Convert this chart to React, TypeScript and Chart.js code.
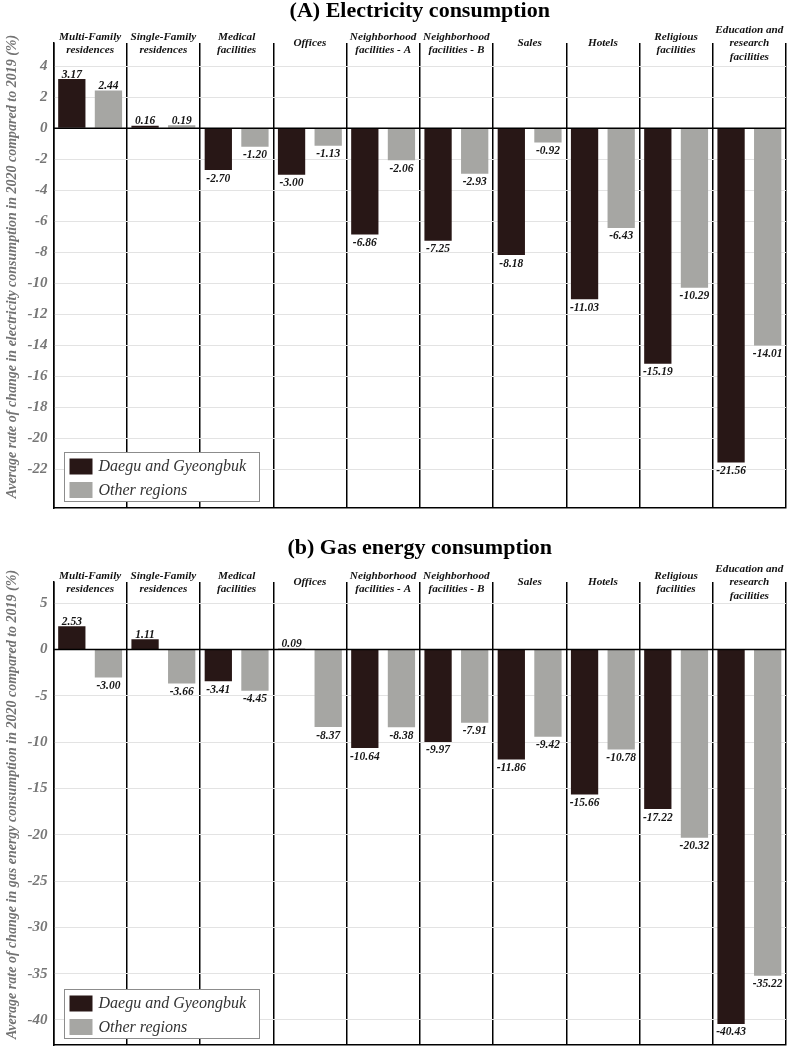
import React, { useEffect, useRef } from "react";
import { Chart, registerables } from "chart.js";

Chart.register(...registerables);

// ---------- data ----------
const categories: string[][] = [
  ["Multi-Family", "residences"],
  ["Single-Family", "residences"],
  ["Medical", "facilities"],
  ["Offices"],
  ["Neighborhood", "facilities - A"],
  ["Neighborhood", "facilities - B"],
  ["Sales"],
  ["Hotels"],
  ["Religious", "facilities"],
  ["Education and", "research", "facilities"],
];

const seriesNames = ["Daegu and Gyeongbuk", "Other regions"];

const elecDaegu = [3.17, 0.16, -2.7, -3.0, -6.86, -7.25, -8.18, -11.03, -15.19, -21.56];
const elecOther = [2.44, 0.19, -1.2, -1.13, -2.06, -2.93, -0.92, -6.43, -10.29, -14.01];

const gasDaegu = [2.53, 1.11, -3.41, 0.09, -10.64, -9.97, -11.86, -15.66, -17.22, -40.43];
const gasOther = [-3.0, -3.66, -4.45, -8.37, -8.38, -7.91, -9.42, -10.78, -20.32, -35.22];

const elecTicks = [4, 2, 0, -2, -4, -6, -8, -10, -12, -14, -16, -18, -20, -22];
const gasTicks = [5, 0, -5, -10, -15, -20, -25, -30, -35, -40];

const elecTitle = "(A) Electricity consumption";
const gasTitle = "(b) Gas energy consumption";
const elecYTitle = "Average rate of change in electricity consumption in 2020 compared to 2019 (%)";
const gasYTitle = "Average rate of change in gas energy consumption in 2020 compared to 2019 (%)";

// ---------- style ----------
const DARK = "#281716";
const GRAY = "#a6a6a3";
const SERIF = "'Liberation Serif', 'Times New Roman', serif";

function makeOverlay(title: string, yTitle: string, titleTop: number) {
  return {
    id: "overlay",
    afterDatasetsDraw(chart: any) {
      const { ctx, chartArea, scales } = chart;
      const y0 = scales.y.getPixelForValue(0);
      ctx.save();
      ctx.strokeStyle = "#000";
      ctx.lineWidth = 1.5;
      ctx.beginPath();
      ctx.moveTo(chartArea.left, y0);
      ctx.lineTo(chartArea.right, y0);
      ctx.stroke();

      ctx.font = `bold italic 11.5px ${SERIF}`;
      ctx.fillStyle = "#151515";
      ctx.textAlign = "center";
      ctx.textBaseline = "alphabetic";
      chart.data.datasets.forEach((ds: any, di: number) => {
        const meta = chart.getDatasetMeta(di);
        meta.data.forEach((el: any, i: number) => {
          const v = ds.data[i] as number;
          const t = v.toFixed(2);
          const y = v >= 0 ? el.y - 1.5 : el.y + 11.5;
          ctx.fillText(t, el.x, y);
        });
      });
      ctx.restore();
    },
    afterDraw(chart: any) {
      const { ctx, chartArea, scales } = chart;
      ctx.save();
      // main title, centred over the plot area
      ctx.font = `bold 22px ${SERIF}`;
      ctx.fillStyle = "#000";
      ctx.textAlign = "center";
      ctx.textBaseline = "middle";
      ctx.fillText(title, (chartArea.left + chartArea.right) / 2, titleTop + 11);

      // y axis title
      ctx.save();
      ctx.translate(12, (chartArea.top + chartArea.bottom) / 2 - 9);
      ctx.rotate(-Math.PI / 2);
      ctx.font = `bold italic 14px ${SERIF}`;
      ctx.fillStyle = "#737373";
      ctx.textAlign = "center";
      ctx.textBaseline = "middle";
      ctx.fillText(yTitle, 0, 0);
      ctx.restore();

      // category labels
      ctx.font = `bold italic 11.2px ${SERIF}`;
      ctx.fillStyle = "#111";
      ctx.textAlign = "center";
      ctx.textBaseline = "middle";
      const lh = 13.6;
      categories.forEach((lines, i) => {
        const x = scales.x.getPixelForValue(i);
        const start = chartArea.top + 0.5 - ((lines.length - 1) * lh) / 2;
        lines.forEach((ln, k) => ctx.fillText(ln, x, start + k * lh));
      });

      // legend
      const bx = Math.round(chartArea.left + 10) + 0.5;
      const by = Math.round(chartArea.bottom - 56) + 0.5;
      const bw = 195;
      const bh = 49;
      ctx.fillStyle = "#fff";
      ctx.fillRect(bx, by, bw, bh);
      ctx.strokeStyle = "#8c8c8c";
      ctx.lineWidth = 1;
      ctx.strokeRect(bx, by, bw, bh);
      ctx.font = `italic 16px ${SERIF}`;
      ctx.textAlign = "left";
      ctx.textBaseline = "middle";
      chart.data.datasets.forEach((ds: any, di: number) => {
        const sy = by + 6 + di * 23.5;
        ctx.fillStyle = ds.backgroundColor;
        ctx.fillRect(bx + 5, sy, 23, 16);
        ctx.fillStyle = "#333";
        ctx.fillText(ds.label, bx + 34, sy + 8.5);
      });
      ctx.restore();
    },
  };
}

type PanelProps = {
  title: string;
  yTitle: string;
  d1: number[];
  d2: number[];
  min: number;
  max: number;
  ticks: number[];
  height: number;
  titleTop: number;
  titleBottom: number;
  padBottom: number;
};

function BarPanel(p: PanelProps) {
  const ref = useRef<HTMLCanvasElement>(null);
  useEffect(() => {
    const chart = new Chart(ref.current as HTMLCanvasElement, {
      type: "bar",
      data: {
        labels: categories.map((c) => c.join(" ")),
        datasets: [
          {
            label: seriesNames[0],
            data: p.d1,
            backgroundColor: DARK,
            borderWidth: 0,
            barPercentage: 0.745,
            categoryPercentage: 1,
          },
          {
            label: seriesNames[1],
            data: p.d2,
            backgroundColor: GRAY,
            borderWidth: 0,
            barPercentage: 0.745,
            categoryPercentage: 1,
          },
        ],
      },
      options: {
        animation: false,
        responsive: true,
        maintainAspectRatio: false,
        layout: { padding: { top: 0, left: 0, right: 3, bottom: p.padBottom } },
        plugins: {
          legend: { display: false },
          tooltip: { enabled: false },
          title: {
            display: true,
            text: p.title,
            color: "rgba(0,0,0,0)",
            font: { family: SERIF, size: 22, weight: "bold", lineHeight: 1 },
            padding: { top: p.titleTop, bottom: p.titleBottom },
          },
        },
        scales: {
          x: {
            type: "category",
            grid: { offset: true, color: "#000", lineWidth: 1.5, drawTicks: false },
            ticks: { display: false },
            border: { display: true, color: "#000", width: 1.5 },
          },
          y: {
            min: p.min,
            max: p.max,
            afterBuildTicks: (s: any) => {
              s.ticks = p.ticks.map((v) => ({ value: v }));
            },
            afterFit: (s: any) => {
              s.width = 53.5;
              s.paddingTop = 0;
              s.paddingBottom = 0;
            },
            grid: {
              color: (c: any) => (c.tick && c.tick.value === 0 ? "rgba(0,0,0,0)" : "#e3e3e3"),
              lineWidth: 1,
              drawTicks: false,
            },
            border: { display: true, color: "#000", width: 1.5 },
            ticks: {
              padding: 6,
              color: "#777",
              font: { family: SERIF, size: 15, style: "italic", weight: "bold" },
              callback: (v: any) => String(v),
            },
            title: { display: false },
          },
        },
      },
      plugins: [makeOverlay(p.title, p.yTitle, p.titleTop)],
    } as any);
    return () => chart.destroy();
  }, []);
  return (
    <div style={{ position: "relative", width: 789, height: p.height }}>
      <canvas ref={ref} />
    </div>
  );
}

export default function App() {
  return (
    <div style={{ position: "absolute", left: 0, top: 0, width: 789, background: "#fff" }}>
      <BarPanel
        title={elecTitle}
        yTitle={elecYTitle}
        d1={elecDaegu}
        d2={elecOther}
        min={-24.5}
        max={5.5}
        ticks={elecTicks}
        height={530}
        titleTop={0}
        titleBottom={21}
        padBottom={22}
      />
      <BarPanel
        title={gasTitle}
        yTitle={gasYTitle}
        d1={gasDaegu}
        d2={gasOther}
        min={-42.7}
        max={7.3}
        ticks={gasTicks}
        height={518}
        titleTop={7}
        titleBottom={23}
        padBottom={3}
      />
    </div>
  );
}
